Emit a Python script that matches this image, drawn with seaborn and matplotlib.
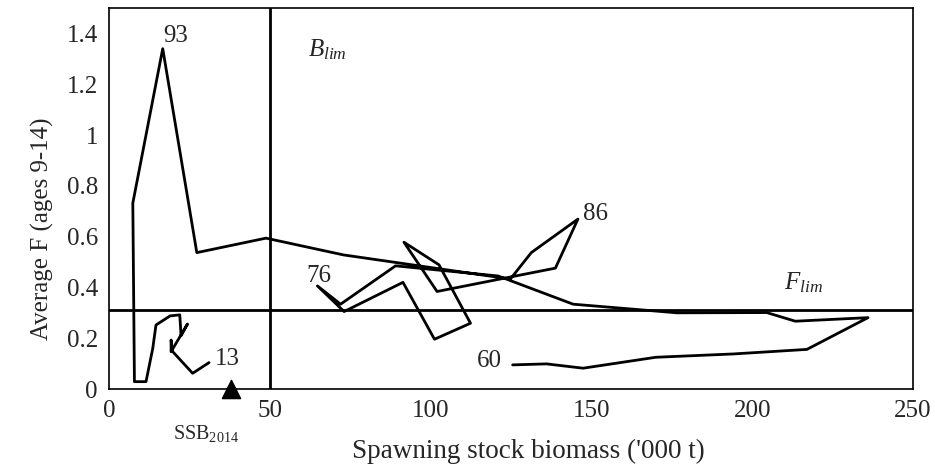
import numpy as np
import pandas as pd
import seaborn as sns
import matplotlib.pyplot as plt

# stock trajectory, 1960 -> 2013
ssb = [125.5, 136, 147.4, 170, 194, 217, 236, 213.4, 204.5, 176.6, 144.3,
       121, 89.1, 72, 64.8, 73.1, 91.4, 101.2, 112.4, 102.6, 91.7, 102.0,
       138.8, 145.8, 131.3, 124.8, 72.9, 48.8, 27.3, 16.7, 7.4, 7.9, 11.5,
       13.6, 14.6, 19.0, 22.0, 22.4, 24.4, 19.3, 19.3, 19.6, 26, 31.1]
avg_f = [0.095, 0.099, 0.082, 0.125, 0.138, 0.156, 0.281, 0.267, 0.301, 0.300, 0.334,
         0.445, 0.485, 0.334, 0.406, 0.305, 0.420, 0.196, 0.259, 0.489, 0.578, 0.384,
         0.476, 0.669, 0.537, 0.433, 0.528, 0.594, 0.537, 1.340, 0.732, 0.029, 0.029,
         0.160, 0.252, 0.288, 0.292, 0.210, 0.256, 0.147, 0.193, 0.150, 0.062, 0.104]

# reference points
b_lim = 50
f_lim = 0.31
ssb_2014 = [38.0]

# year labels: text, x, y
year_labels = ["93", "86", "76", "60", "13"]
label_x = [16.8, 147.3, 61.5, 122.0, 33.0]
label_y = [1.39, 0.69, 0.445, 0.112, 0.12]

x_ticks = [0, 50, 100, 150, 200, 250]
y_ticks = [0, 0.2, 0.4, 0.6, 0.8, 1.0, 1.2, 1.4]
y_tick_labels = ["0", "0.2", "0.4", "0.6", "0.8", "1", "1.2", "1.4"]

sns.set_style("white")
plt.rcParams["font.family"] = ["Liberation Serif", "DejaVu Serif"]
plt.rcParams["mathtext.fontset"] = "custom"
plt.rcParams["mathtext.rm"] = "Liberation Serif"
plt.rcParams["mathtext.it"] = "Liberation Serif:italic"

fig = plt.figure(figsize=(9.35, 4.72), dpi=100)
ax = fig.add_axes([0.1166, 0.1758, 0.8599, 0.8072])

df = pd.DataFrame({"ssb": ssb, "f": avg_f})
sns.lineplot(data=df, x="ssb", y="f", sort=False, estimator=None,
             color="black", lw=2, ax=ax)

ax.axvline(b_lim, color="black", lw=2)
ax.axhline(f_lim, color="black", lw=2)

# SSB 2014 marker sits on the x axis
sns.scatterplot(x=ssb_2014, y=[0], marker="^", s=170, color="black",
                edgecolor="black", clip_on=False, zorder=5, ax=ax)
ax.text(ssb_2014[0] - 8, -0.175, "SSB$_{2014}$", fontsize=14.5,
        ha="center", va="center")

for t, x, y in zip(year_labels, label_x, label_y):
    ha = "right" if t == "60" else "left"
    ax.text(x, y, t, fontsize=18, ha=ha, va="center")

ax.text(62, 1.335, "$B_{lim}$", fontsize=18, va="center")
ax.text(210, 0.42, "$F_{lim}$", fontsize=18, va="center")

ax.set_xlim(0, 250)
ax.set_ylim(0, 1.5)
ax.set_xticks(x_ticks)
ax.set_yticks(y_ticks)
ax.set_yticklabels(y_tick_labels)
ax.tick_params(direction="in", length=7, width=1, labelsize=18, pad=8)
for s in ax.spines.values():
    s.set_color("black")
    s.set_linewidth(1.2)

ax.set_xlabel("Spawning stock biomass ('000 t)", fontsize=19.5)
ax.set_ylabel("Average F (ages 9-14)", fontsize=18)
ax.xaxis.set_label_coords(0.521, -0.13)
ax.yaxis.set_label_coords(-0.068, 0.42)

fig.savefig("out.png", dpi=100)
